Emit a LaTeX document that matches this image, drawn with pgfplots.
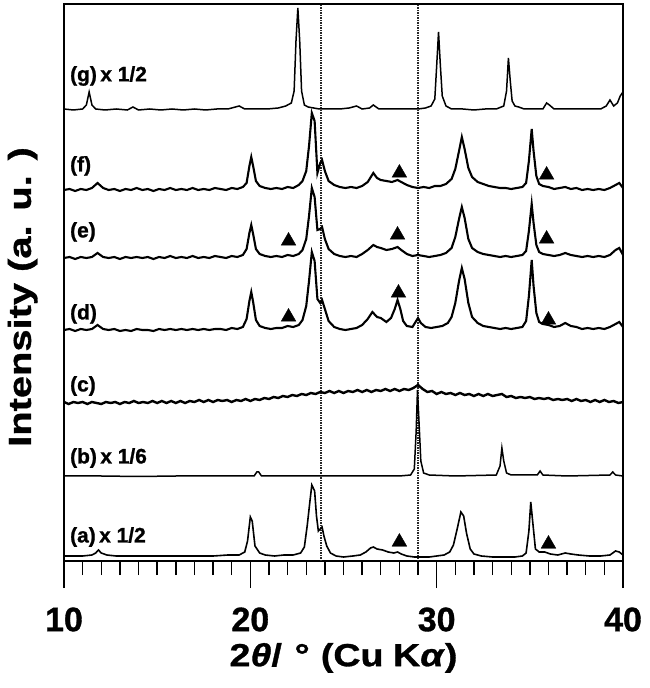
\documentclass[border=0pt]{standalone}
\usepackage{fontspec}
\setmainfont{Liberation Sans}
\newfontfamily\heavy{Liberation Sans}[BoldFeatures={FakeBold=1}, BoldItalicFeatures={FakeBold=1}]
\newfontfamily\heavywide{Liberation Sans}[BoldFeatures={FakeBold=1,FakeStretch=1.18}, BoldItalicFeatures={FakeBold=1,FakeStretch=1.18}]
\newfontfamily\heavyy{Liberation Sans}[BoldFeatures={FakeBold=1,FakeStretch=1.25}]
\usepackage{pgfplots}
\pgfplotsset{compat=1.18}
\begin{document}
\begin{tikzpicture}
\path[use as bounding box] (-64bp,-127bp) rectangle (586bp,561bp);
\begin{axis}[
  at={(0,0)}, anchor=south west,
  scale only axis, width=559bp, height=557bp,
  xmin=10, xmax=40, ymin=0, ymax=557,
  ytick=\empty,
  xtick={10,20,30,40},
  minor x tick num=9,
  xtick pos=bottom,
  tick align=outside,
  major tick length=27bp, minor tick length=14bp,
  axis line style={line width=1.6bp},
  every tick/.style={line width=1.4bp, black},
  /pgf/number format/assume math mode=true,
  xticklabel style={font=\fontsize{34}{34}\selectfont\heavy\bfseries, yshift=-16bp},
  xlabel={2\textit{θ}/\hspace{0.4em}°\hspace{0.35em}(Cu\hspace{0.3em}K\textit{α})},
  xlabel style={font=\fontsize{32}{32}\selectfont\heavywide\bfseries, at={(axis description cs:0.5,-0.174)}, anchor=center},
  ylabel={Intensity (a. u. )},
  ylabel style={font=\fontsize{32}{32}\selectfont\heavyy\bfseries, at={(axis description cs:-0.074,0.474)}, anchor=center},
  clip=false,
]
% dotted reference lines
\addplot[black!85, line width=1.5bp, dash pattern=on 1.5bp off 1bp] coordinates {(23.8,0) (23.8,557)};
\addplot[black!85, line width=1.5bp, dash pattern=on 1.5bp off 1bp] coordinates {(29.0,0) (29.0,557)};
% (g)
\addplot[black, line width=1.5bp] coordinates {
(10.0,452) (10.5,451) (11.0,452) (11.2,456) (11.35,469) (11.5,456) (11.7,452) (12.2,451) (12.8,452) (13.4,451) (13.7,454) (14.0,451) (14.6,452) (15.2,451) (15.8,452) (16.4,451) (17.0,452) (17.6,451) (18.2,452) (18.8,452) (19.4,455) (19.7,452) (20.3,452) (20.9,452) (21.5,453) (21.9,455) (22.2,458) (22.35,470) (22.45,520) (22.55,553) (22.65,520) (22.75,470) (22.9,456) (23.1,454) (23.4,453) (23.7,452) (24.2,452) (24.8,452) (25.3,453) (25.7,455) (26.0,452) (26.4,453) (26.6,456) (26.9,452) (27.5,452) (28.0,452) (28.5,452) (29.0,452) (29.4,453) (29.7,455) (29.9,462) (30.0,495) (30.1,529) (30.2,495) (30.3,465) (30.5,455) (30.8,452) (31.4,452) (32.0,451) (32.6,452) (33.2,452) (33.6,455) (33.75,470) (33.85,503) (33.95,480) (34.05,460) (34.2,455) (34.4,454) (34.7,452) (35.2,452) (35.7,452) (35.9,458) (36.05,456) (36.3,452) (37.0,452) (37.6,452) (38.2,452) (38.8,452) (39.1,455) (39.3,461) (39.5,455) (39.7,458) (39.85,465) (40.0,469)};
% (f)
\addplot[black, line width=2.1bp] coordinates {
(10.0,371) (10.3,372) (10.6,370) (10.9,372) (11.2,371) (11.5,373) (11.8,378) (12.1,373) (12.4,371) (12.7,372) (13.0,370) (13.3,372) (13.6,371) (13.9,373) (14.2,371) (14.5,372) (14.8,370) (15.1,372) (15.4,371) (15.7,373) (16.0,371) (16.3,372) (16.6,371) (16.9,373) (17.2,371) (17.5,372) (17.8,371) (18.1,373) (18.4,372) (18.7,371) (19.0,373) (19.3,372) (19.6,374) (19.8,378) (19.95,395) (20.05,404) (20.15,395) (20.3,380) (20.5,375) (20.8,373) (21.1,372) (21.4,373) (21.7,372) (22.0,374) (22.3,373) (22.6,376) (22.8,380) (23.0,390) (23.15,415) (23.3,448) (23.45,440) (23.6,388) (23.75,398) (23.85,401) (24.0,390) (24.2,380) (24.5,376) (24.8,374) (25.1,373) (25.4,374) (25.7,373) (26.0,375) (26.3,379) (26.6,388) (26.8,383) (27.0,381) (27.3,380) (27.6,379) (27.9,381) (28.1,379) (28.4,376) (28.7,374) (29.0,373) (29.3,374) (29.6,373) (29.9,375) (30.2,375) (30.5,377) (30.8,382) (31.0,392) (31.2,410) (31.35,424) (31.5,412) (31.7,393) (31.9,384) (32.2,379) (32.5,377) (32.8,375) (33.1,374) (33.4,373) (33.7,373) (34.0,372) (34.3,373) (34.6,374) (34.8,378) (34.95,400) (35.1,432) (35.2,410) (35.35,385) (35.5,377) (35.7,375) (36.0,374) (36.3,372) (36.6,373) (36.9,374) (37.2,372) (37.5,373) (37.8,371) (38.1,372) (38.4,371) (38.7,372) (39.0,371) (39.3,373) (39.6,376) (39.8,378) (40.0,373)};
% (e)
\addplot[black, line width=2.1bp] coordinates {
(10.0,303) (10.3,304) (10.6,302) (10.9,304) (11.2,303) (11.5,304) (11.8,308) (12.1,304) (12.4,303) (12.7,304) (13.0,302) (13.3,304) (13.6,303) (13.9,304) (14.2,303) (14.5,304) (14.8,302) (15.1,304) (15.4,303) (15.7,305) (16.0,303) (16.3,304) (16.6,303) (16.9,305) (17.2,303) (17.5,304) (17.8,303) (18.1,305) (18.4,304) (18.7,303) (19.0,305) (19.3,304) (19.6,306) (19.8,312) (19.95,328) (20.05,336) (20.15,327) (20.3,312) (20.5,307) (20.8,305) (21.1,304) (21.4,305) (21.7,304) (22.0,306) (22.3,305) (22.6,307) (22.8,311) (23.0,322) (23.15,345) (23.3,373) (23.45,364) (23.6,331) (23.75,332) (23.85,334) (24.0,322) (24.2,312) (24.5,307) (24.8,305) (25.1,304) (25.4,305) (25.7,304) (26.0,307) (26.3,311) (26.6,316) (26.8,314) (27.0,313) (27.3,311) (27.6,312) (27.9,314) (28.1,311) (28.4,307) (28.7,305) (29.0,306) (29.3,305) (29.6,304) (29.9,305) (30.2,306) (30.5,308) (30.8,313) (31.0,324) (31.2,342) (31.35,354) (31.5,343) (31.7,322) (31.9,313) (32.2,309) (32.5,307) (32.8,306) (33.1,305) (33.4,304) (33.7,305) (34.0,304) (34.3,305) (34.6,306) (34.8,310) (34.95,330) (35.1,357) (35.2,338) (35.35,316) (35.5,309) (35.7,307) (36.0,306) (36.3,305) (36.6,306) (36.9,308) (37.2,306) (37.5,305) (37.8,304) (38.1,305) (38.4,304) (38.7,305) (39.0,304) (39.3,306) (39.6,311) (39.8,313) (40.0,306)};
% (d)
\addplot[black, line width=2.1bp] coordinates {
(10.0,231) (10.3,232) (10.6,230) (10.9,232) (11.2,231) (11.5,232) (11.8,236) (12.1,232) (12.4,231) (12.7,232) (13.0,230) (13.3,231) (13.6,230) (13.9,232) (14.2,231) (14.5,231) (14.8,230) (15.1,232) (15.4,231) (15.7,232) (16.0,231) (16.3,232) (16.6,231) (16.9,232) (17.2,231) (17.5,232) (17.8,231) (18.1,232) (18.4,232) (18.7,231) (19.0,233) (19.3,232) (19.6,234) (19.8,242) (19.95,260) (20.05,269) (20.15,259) (20.3,241) (20.5,235) (20.8,233) (21.1,232) (21.4,233) (21.7,233) (22.0,235) (22.3,234) (22.6,236) (22.8,241) (23.0,255) (23.15,280) (23.3,309) (23.45,300) (23.6,262) (23.75,258) (23.85,261) (24.0,252) (24.2,240) (24.5,234) (24.8,232) (25.1,231) (25.4,232) (25.7,233) (26.0,236) (26.3,242) (26.55,249) (26.8,244) (27.0,243) (27.3,239) (27.55,243) (27.75,252) (27.9,261) (28.05,252) (28.2,240) (28.4,235) (28.7,234) (28.9,240) (29.0,243) (29.15,238) (29.4,234) (29.7,233) (30.0,234) (30.3,235) (30.6,238) (30.8,244) (31.0,258) (31.2,280) (31.35,293) (31.5,282) (31.7,258) (31.9,244) (32.2,238) (32.5,235) (32.8,234) (33.1,233) (33.4,232) (33.7,233) (34.0,232) (34.3,233) (34.6,234) (34.8,240) (34.95,265) (35.1,301) (35.2,275) (35.35,248) (35.5,239) (35.7,237) (36.0,236) (36.3,234) (36.6,235) (36.9,238) (37.2,235) (37.5,234) (37.8,232) (38.1,233) (38.4,232) (38.7,233) (39.0,232) (39.3,234) (39.6,237) (39.8,239) (40.0,234)};
% (c)
\addplot[black, line width=2.4bp] coordinates {
(10.00,159) (10.25,157) (10.50,159) (10.75,158) (11.00,159) (11.25,157) (11.50,159) (11.75,158) (12.00,157) (12.25,159) (12.50,158) (12.75,159) (13.00,157) (13.25,159) (13.50,158) (13.75,160) (14.00,158) (14.25,159) (14.50,158) (14.75,160) (15.00,158) (15.25,160) (15.50,158) (15.75,160) (16.00,158) (16.25,160) (16.50,158) (16.75,160) (17.00,159) (17.25,161) (17.50,159) (17.75,161) (18.00,159) (18.25,161) (18.50,160) (18.75,161) (19.00,159) (19.25,161) (19.50,160) (19.75,162) (20.00,160) (20.25,162) (20.50,161) (20.75,163) (21.00,162) (21.25,164) (21.50,163) (21.75,165) (22.00,164) (22.25,166) (22.50,165) (22.75,167) (23.00,166) (23.25,168) (23.50,167) (23.75,169) (24.00,168) (24.25,170) (24.50,168) (24.75,170) (25.00,168) (25.25,170) (25.50,169) (25.75,171) (26.00,169) (26.25,171) (26.50,169) (26.75,171) (27.00,170) (27.25,172) (27.50,170) (27.75,172) (28.00,170) (28.25,172) (28.50,171) (28.75,173) (29.00,176) (29.25,172) (29.50,169) (29.75,170) (30.00,167) (30.25,169) (30.50,167) (30.75,168) (31.00,166) (31.25,168) (31.50,166) (31.75,167) (32.00,165) (32.25,167) (32.50,165) (32.75,167) (33.00,165) (33.25,166) (33.50,167) (33.75,164) (34.00,165) (34.25,163) (34.50,164) (34.75,163) (35.00,164) (35.25,162) (35.50,163) (35.75,162) (36.00,163) (36.25,161) (36.50,162) (36.75,161) (37.00,162) (37.25,160) (37.50,162) (37.75,160) (38.00,161) (38.25,159) (38.50,161) (38.75,159) (39.00,161) (39.25,159) (39.50,160) (39.75,158) (40.00,159)};
% (b)
\addplot[black, line width=1.5bp] coordinates {
(10,85) (12,85) (14,84.5) (16,85) (18,85) (20.2,85) (20.35,89) (20.45,89) (20.6,85) (22,85) (24,85) (26,85) (28,85) (28.6,86) (28.8,92) (28.9,130) (28.97,171) (29.05,140) (29.15,100) (29.3,88) (29.6,86) (31,85) (33.2,86) (33.4,95) (33.5,113) (33.6,100) (33.75,88) (34,86) (35.4,86) (35.55,90) (35.7,86) (37,85) (39.3,86) (39.45,89) (39.6,86) (40,85)};
% (a)
\addplot[black, line width=1.6bp] coordinates {
(10.0,5) (10.5,5) (11.0,5) (11.5,6) (11.7,8) (11.85,11) (12.0,8) (12.3,6) (12.8,5) (13.5,5) (14.2,5) (15.0,5) (15.8,5) (16.5,5) (17.2,5) (18.0,5) (18.8,6) (19.4,6) (19.7,9) (19.85,20) (20.0,44) (20.1,40) (20.25,15) (20.5,8) (20.8,6) (21.3,5) (21.8,6) (22.3,6) (22.7,8) (22.9,14) (23.05,35) (23.2,60) (23.3,76) (23.45,70) (23.55,45) (23.65,30) (23.75,32) (23.85,34) (23.95,25) (24.1,15) (24.3,8) (24.6,5) (25.0,4) (25.5,5) (25.9,6) (26.2,9) (26.45,13) (26.6,14) (26.8,12) (27.1,11) (27.4,9) (27.7,8) (27.9,9) (28.1,7) (28.4,5) (28.8,4) (29.2,4) (29.6,4) (30.0,5) (30.4,6) (30.7,9) (30.9,16) (31.1,32) (31.3,49) (31.45,45) (31.6,28) (31.8,12) (32.0,7) (32.4,5) (33.0,4) (33.6,4) (34.2,4) (34.6,5) (34.8,8) (34.95,30) (35.05,59) (35.15,40) (35.3,12) (35.5,9) (35.8,9) (36.1,7) (36.5,6) (36.9,8) (37.2,7) (37.6,6) (38.2,5) (38.8,5) (39.3,6) (39.6,10) (39.8,9) (40.0,6)};
% triangles
\addplot[only marks, mark=triangle*, mark size=8.5bp, black] coordinates {
(28.0,19) (36.0,17)
(22.05,244) (27.95,268) (36.0,241)
(22.05,320) (27.9,326) (35.9,322)
(28.0,388) (35.9,386)};
% sample labels
\begin{scope}[every node/.style={font=\fontsize{21}{21}\selectfont\heavy\bfseries, anchor=west, inner sep=0pt}]
\node at (axis cs:10.32,485) {(g)\,x 1/2};
\node at (axis cs:10.32,395) {(f)};
\node at (axis cs:10.32,329) {(e)};
\node at (axis cs:10.32,247) {(d)};
\node at (axis cs:10.32,175) {(c)};
\node at (axis cs:10.32,103) {(b)\,x 1/6};
\node at (axis cs:10.32,24) {(a)\,x 1/2};
\end{scope}
\end{axis}
\end{tikzpicture}
\end{document}
